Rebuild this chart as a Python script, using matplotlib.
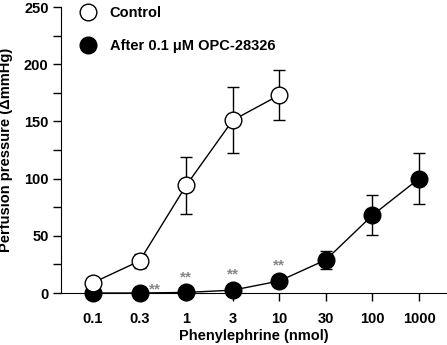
import matplotlib.pyplot as plt
import numpy as np

doses = ["0.1", "0.3", "1", "3", "10", "30", "100", "1000"]

control_x = ["0.1", "0.3", "1", "3", "10"]
control_mean = [9, 28, 94, 151, 173]
control_sem = [3, 6, 25, 29, 22]

opc_mean = [0, 0, 0.5, 2.5, 10.5, 29, 68, 100]
opc_sem = [0, 0, 0, 0, 0, 8, 17.5, 22]

star_pos = [1.32, 2, 3, 4]
star_y = [3, 14, 16, 24]

plt.rcParams["font.family"] = ["Liberation Sans", "DejaVu Sans"]
plt.rcParams["font.weight"] = "bold"

fig = plt.figure(figsize=(4.47, 3.45), dpi=100)
ax = fig.add_axes([0.1365, 0.1507, 0.8635, 0.829])

x_all = np.arange(len(doses))
x_ctrl = np.array([doses.index(d) for d in control_x])

ax.errorbar(x_all, opc_mean, yerr=opc_sem, fmt="none", ecolor="black",
            elinewidth=1, capsize=4, capthick=1, clip_on=False, zorder=2)
ax.plot(x_all, opc_mean, "-o", color="black", lw=1, ms=12, mfc="black",
        mec="black", clip_on=False, zorder=3, label="After 0.1 \u03bcM OPC-28326")

ax.errorbar(x_ctrl, control_mean, yerr=control_sem, fmt="none", ecolor="black",
            elinewidth=1, capsize=4, capthick=1, clip_on=False, zorder=4)
ax.plot(x_ctrl, control_mean, "-o", color="black", lw=1, ms=12, mfc="white",
        mec="black", mew=1, clip_on=False, zorder=5, label="Control")

for sx, sy in zip(star_pos, star_y):
    ax.text(sx, sy, "**", color="#888888", fontsize=11, ha="center", va="center")

ax.set_xlim(-0.687, 7.6)
ax.set_ylim(0, 250)
ax.set_xticks(x_all)
ax.set_xticklabels(doses)
ax.set_yticks(np.arange(0, 251, 50))
ax.set_yticks(np.arange(25, 250, 50), minor=True)
ax.tick_params(axis="both", which="major", length=6, width=1, direction="out")
ax.tick_params(axis="x", labelsize=10.5, pad=8)
ax.tick_params(axis="y", labelsize=10.5, pad=3)
ax.tick_params(axis="y", which="minor", length=6, width=1, direction="out")
ax.spines["top"].set_visible(False)
ax.spines["right"].set_visible(False)

ax.set_xlabel("Phenylephrine (nmol)", fontsize=10.5, fontweight="bold", labelpad=2)
ax.set_ylabel("Perfusion pressure (\u0394mmHg)", fontsize=10.5, fontweight="bold", labelpad=8)

handles, labels = ax.get_legend_handles_labels()
ax.legend(handles[::-1], labels[::-1], loc="upper left", bbox_to_anchor=(0.035, 1.05),
          frameon=False, handlelength=0, handletextpad=1.5, labelspacing=1.3,
          fontsize=10.5, markerscale=1.0)

fig.savefig("out.png", dpi=100)
